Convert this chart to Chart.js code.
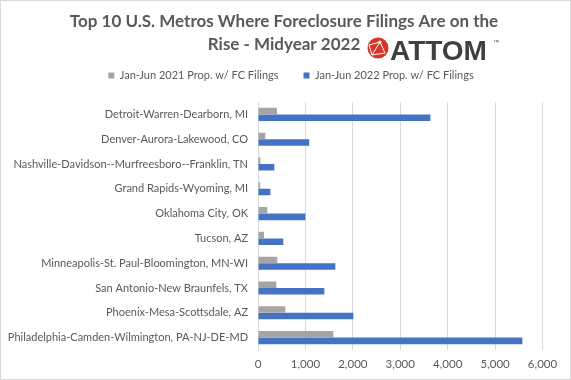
<!DOCTYPE html>
<html><head><meta charset="utf-8">
<script src="https://cdn.jsdelivr.net/npm/chart.js@4/dist/chart.umd.min.js"></script>
<style>html,body{margin:0;padding:0;background:#fff;}#wrap{width:571px;height:380px;position:relative;}</style>
</head><body><div id="wrap"><canvas id="c" width="571" height="380"></canvas></div>
<script>
const titleLines = ['Top 10 U.S. Metros Where Foreclosure Filings Are on the', 'Rise - Midyear 2022'];
const logoText = 'ATTOM';
const categories = [
  'Detroit-Warren-Dearborn, MI',
  'Denver-Aurora-Lakewood, CO',
  'Nashville-Davidson--Murfreesboro--Franklin, TN',
  'Grand Rapids-Wyoming, MI',
  'Oklahoma City, OK',
  'Tucson, AZ',
  'Minneapolis-St. Paul-Bloomington, MN-WI',
  'San Antonio-New Braunfels, TX',
  'Phoenix-Mesa-Scottsdale, AZ',
  'Philadelphia-Camden-Wilmington, PA-NJ-DE-MD'
];
const seriesNames = ['Jan-Jun 2021 Prop. w/ FC Filings', 'Jan-Jun 2022 Prop. w/ FC Filings'];
const filings2021 = [400, 154, 50, 45, 196, 126, 407, 386, 576, 1589];
const filings2022 = [3635, 1082, 344, 260, 998, 534, 1631, 1399, 2010, 5576];
const xTickValues = [0, 1000, 2000, 3000, 4000, 5000, 6000];

const FONT = 'Lato, "Open Sans", sans-serif';
const TEXT = '#595959';

const layoutFix = {
  id: 'layoutFix',
  afterLayout(chart) {
    const t = chart.titleBlock;
    t.left = 0; t.right = 568;
    const lg = chart.legend;
    lg.top -= 11; lg.bottom -= 11;
    lg.left = 14; lg.right = 568;
  },
  afterDraw(chart) {
    const ctx = chart.ctx;
    ctx.save();
    // logo icon
    const cx = 378, cy = 48, r = 10.5;
    ctx.fillStyle = '#d8362a';
    ctx.beginPath(); ctx.arc(cx, cy, r, 0, Math.PI * 2); ctx.fill();
    ctx.strokeStyle = '#ffffff'; ctx.lineWidth = 1;
    ctx.beginPath();
    ctx.moveTo(cx - 9, cy - 3); ctx.lineTo(cx + 2, cy - 6); ctx.lineTo(cx + 7, cy + 5);
    ctx.moveTo(cx - 6, cy + 7); ctx.lineTo(cx + 2, cy - 6);
    ctx.moveTo(cx - 9, cy - 3); ctx.lineTo(cx - 6, cy + 7); ctx.lineTo(cx + 7, cy + 5);
    ctx.stroke();
    ctx.fillStyle = '#ffffff';
    ctx.beginPath(); ctx.arc(cx + 2, cy - 6, 1.6, 0, Math.PI * 2); ctx.fill();
    // logo text
    ctx.fillStyle = '#3f3f3f';
    ctx.font = 'bold 28px "Liberation Sans", Arial, sans-serif';
    ctx.textBaseline = 'alphabetic';
    ctx.textAlign = 'left';
    ctx.fillText(logoText, 390, 60);
    ctx.font = '6px "Liberation Sans", Arial, sans-serif';
    ctx.fillText('\u2122', 493, 44);
    // border
    ctx.strokeStyle = '#d9d9d9'; ctx.lineWidth = 1;
    ctx.strokeRect(0.5, 0.5, 570, 379);
    ctx.restore();
  }
};

new Chart(document.getElementById('c'), {
  type: 'bar',
  data: {
    labels: categories,
    datasets: [
      { label: seriesNames[0], data: filings2021, backgroundColor: '#a5a5a5', categoryPercentage: 0.53, barPercentage: 1.0 },
      { label: seriesNames[1], data: filings2022, backgroundColor: '#4472c4', categoryPercentage: 0.53, barPercentage: 1.0 }
    ]
  },
  options: {
    indexAxis: 'y',
    responsive: false,
    animation: false,
    layout: { padding: { left: 0, right: 28.5, top: 0, bottom: 0 } },
    plugins: {
      title: {
        display: true,
        text: titleLines,
        color: TEXT,
        font: { family: FONT, size: 17, weight: 'bold', lineHeight: '23px' },
        padding: { top: 10, bottom: 0 }
      },
      legend: {
        display: true,
        position: 'top',
        labels: { boxWidth: 6, boxHeight: 6, padding: 25, color: TEXT, font: { family: FONT, size: 11 } }
      },
      tooltip: { enabled: false }
    },
    scales: {
      y: {
        type: 'category',
        grid: { display: false, drawTicks: false },
        border: { display: true, color: '#d9d9d9' },
        ticks: { color: TEXT, font: { family: FONT, size: 11 }, padding: 10, autoSkip: false },
        afterFit(scale) { scale.width = 258; }
      },
      x: {
        type: 'linear',
        min: 0, max: 6000,
        afterBuildTicks(scale) { scale.ticks = xTickValues.map(v => ({ value: v })); },
        grid: { color: '#d9d9d9', drawTicks: false },
        border: { display: false },
        ticks: { color: TEXT, font: { family: FONT, size: 11.5 }, padding: 7,
          callback: v => Number(v).toLocaleString('en-US') },
        afterFit(scale) { scale.height = 30; }
      }
    }
  },
  plugins: [layoutFix]
});
</script></body></html>
